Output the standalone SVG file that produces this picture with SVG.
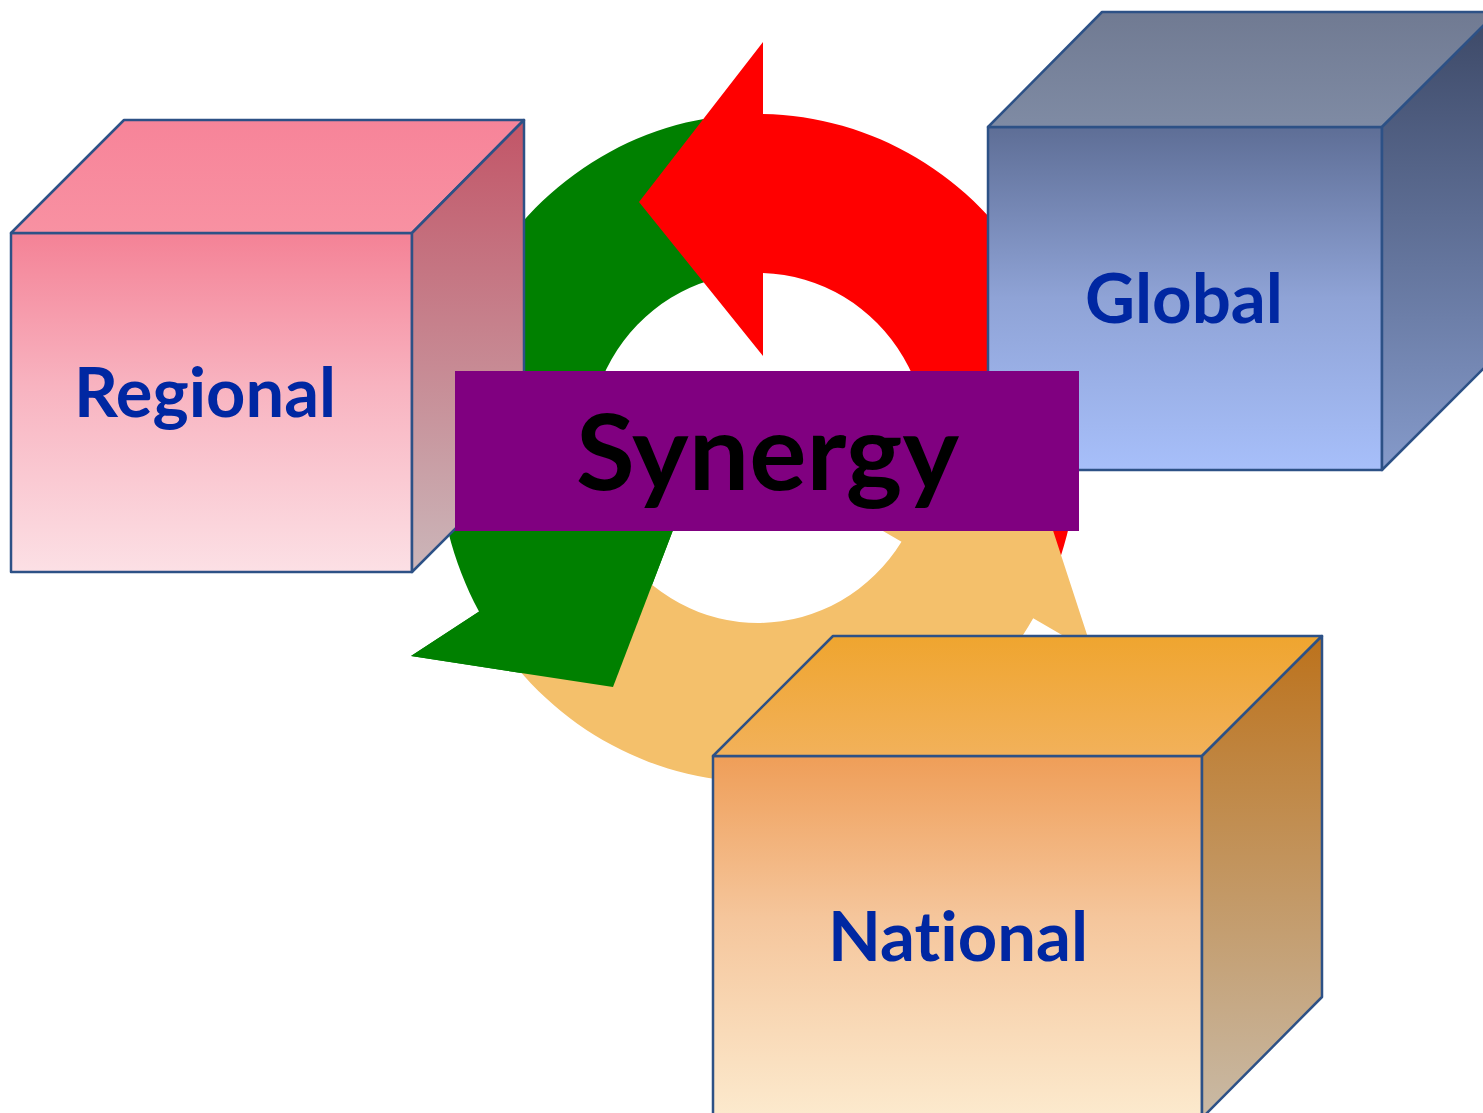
<svg xmlns="http://www.w3.org/2000/svg" width="1483" height="1113" viewBox="0 0 1483 1113">
<defs>
<linearGradient id="rFront" x1="0" y1="0" x2="0" y2="1"><stop offset="0" stop-color="#F48296"/><stop offset="0.45" stop-color="#F8B3C0"/><stop offset="1" stop-color="#FCE0E5"/></linearGradient>
<linearGradient id="rTop" x1="0" y1="0" x2="0" y2="1"><stop offset="0" stop-color="#F78499"/><stop offset="1" stop-color="#F891A2"/></linearGradient>
<linearGradient id="rRight" x1="0" y1="0" x2="0" y2="1"><stop offset="0" stop-color="#C25567"/><stop offset="1" stop-color="#CBB6B9"/></linearGradient>
<linearGradient id="gFront" x1="0" y1="0" x2="0" y2="1"><stop offset="0" stop-color="#5E6E96"/><stop offset="0.5" stop-color="#8FA3D6"/><stop offset="1" stop-color="#A7BFFA"/></linearGradient>
<linearGradient id="gTop" x1="0" y1="0" x2="0" y2="1"><stop offset="0" stop-color="#707A92"/><stop offset="1" stop-color="#7F8BA4"/></linearGradient>
<linearGradient id="gRight" x1="0" y1="0" x2="0" y2="1"><stop offset="0" stop-color="#3C4866"/><stop offset="1" stop-color="#859ACA"/></linearGradient>
<linearGradient id="nFront" x1="0" y1="0" x2="0" y2="1"><stop offset="0" stop-color="#EF9E58"/><stop offset="0.45" stop-color="#F5C69C"/><stop offset="1" stop-color="#FCEACE"/></linearGradient>
<linearGradient id="nTop" x1="0" y1="0" x2="0" y2="1"><stop offset="0" stop-color="#EFA52F"/><stop offset="1" stop-color="#F2B15A"/></linearGradient>
<linearGradient id="nRight" x1="0" y1="0" x2="0" y2="1"><stop offset="0" stop-color="#BC721C"/><stop offset="1" stop-color="#C9BAA6"/></linearGradient>
</defs>
<style>
.edge{stroke:#2D5186;stroke-width:2.5;stroke-linejoin:round}
.lbl{font-family:Lato,"Open Sans","Liberation Sans",sans-serif;font-weight:700;fill:#0027A2;font-size:68px;font-variant-ligatures:none;font-feature-settings:"liga" 0}
.syn{font-family:Lato,"Open Sans","Liberation Sans",sans-serif;font-weight:700;fill:#000000;font-size:106px;font-variant-ligatures:none}
</style>
<rect width="1483" height="1113" fill="#FFFFFF"/>
<g id="cycle">
<path id="arrow-green" fill="#008000" d="M746.8,114.2 A320,334 0 0 0 479,611.6 L411,656 L613,687 L696,470 L607,528.1 A170,175 0 0 1 752,273.1 Z"/>
<path id="arrow-red" fill="#FF0000" d="M1045.6,594.4 A320,334 0 0 0 763,114 L763,42 L639,202 L763,356 L763,273 A170,175 0 0 1 910.8,524.7 Z"/>
<path id="arrow-orange" fill="#F4C06B" d="M492.7,634.8 A320,334 0 0 0 1033.2,618.2 L1093,653 L1030,460 L821,495 L901.5,541.7 A170,175 0 0 1 617.1,545.9 Z"/>
<polygon id="arrow-green-head" fill="#008000" points="411,656 613,687 696,470"/>
</g>
<g id="regional">
<rect class="edge" x="11" y="233" width="401" height="339" fill="url(#rFront)"/>
<polygon class="edge" points="11,233 124,120 524,120 412,233" fill="url(#rTop)"/>
<polygon class="edge" points="412,233 524,120 524,460 412,572" fill="url(#rRight)"/>
<text class="lbl" x="74" y="417" textLength="262" lengthAdjust="spacingAndGlyphs">Regional</text>
</g>
<g id="global">
<rect class="edge" x="988" y="127" width="394" height="343" fill="url(#gFront)"/>
<polygon class="edge" points="988,127 1102,12 1497,12 1382,127" fill="url(#gTop)"/>
<polygon class="edge" points="1382,127 1497,12 1497,355 1382,470" fill="url(#gRight)"/>
<text class="lbl" x="1085" y="323" textLength="198" lengthAdjust="spacingAndGlyphs">Global</text>
</g>
<g id="national">
<rect class="edge" x="713" y="756" width="489" height="362" fill="url(#nFront)"/>
<polygon class="edge" points="713,756 833,636 1322,636 1202,756" fill="url(#nTop)"/>
<polygon class="edge" points="1202,756 1322,636 1322,997 1202,1118" fill="url(#nRight)"/>
<text class="lbl" x="828" y="961" textLength="260" lengthAdjust="spacingAndGlyphs">National</text>
</g>
<g id="synergy">
<rect x="455" y="371" width="624" height="160" fill="#800080"/>
<text class="syn" x="576" y="490" textLength="383" lengthAdjust="spacingAndGlyphs">Synergy</text>
</g>
</svg>
